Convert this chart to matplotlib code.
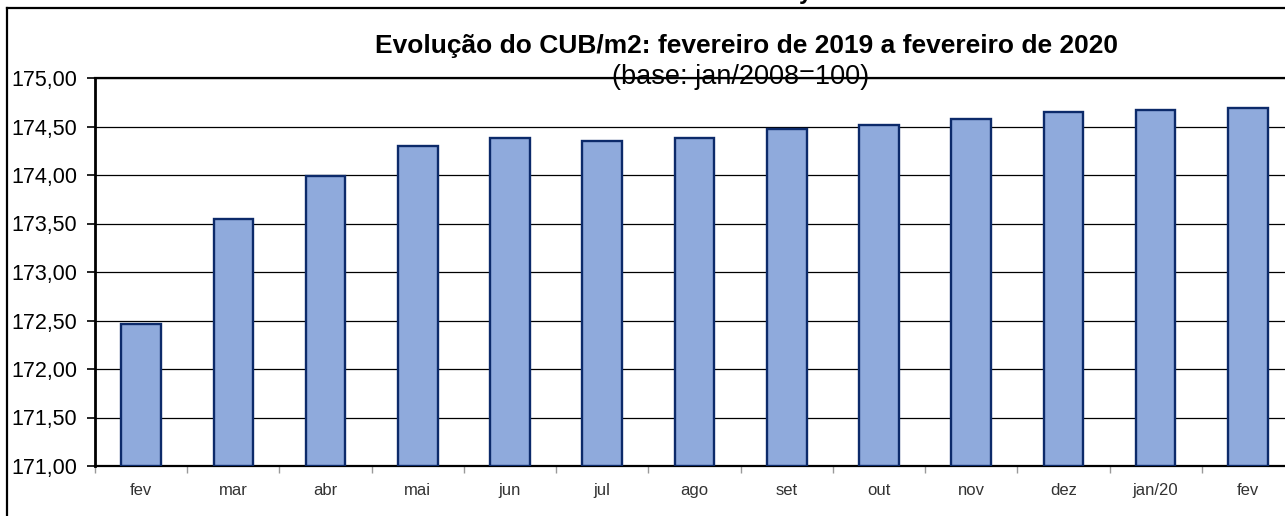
import numpy as np
import matplotlib
matplotlib.use("Agg")
import matplotlib.pyplot as plt
from matplotlib.lines import Line2D
from matplotlib.ticker import FixedLocator, FuncFormatter

plt.rcParams['font.family'] = ['Liberation Sans', 'DejaVu Sans']

# dados
meses = ['fev', 'mar', 'abr', 'mai', 'jun', 'jul', 'ago', 'set', 'out', 'nov', 'dez', 'jan/20', 'fev']
cub = [172.46, 173.55, 173.99, 174.30, 174.38, 174.35, 174.38, 174.47, 174.52, 174.58, 174.65, 174.67, 174.69]
y_ticks = [171.0, 171.5, 172.0, 172.5, 173.0, 173.5, 174.0, 174.5, 175.0]

fig = plt.figure(figsize=(12.85, 5.16), dpi=100)
W, H = 1285.0, 516.0

# moldura externa (cortada)
fig.add_artist(Line2D([7/W, 7/W], [0, 1 - 8/H], color='black', lw=1.6, transform=fig.transFigure))
fig.add_artist(Line2D([7/W, 1], [1 - 8/H, 1 - 8/H], color='black', lw=1.6, transform=fig.transFigure))
# resto de texto acima (cortado)
fig.text(805/W, 1.0 + 1/H, 'y', fontsize=17, fontweight='bold', ha='center', va='baseline')

ax = fig.add_axes([95/W, 50/H, 1199/W, 388/H])
x = np.arange(len(meses))
ax.bar(x, [v - 171.0 for v in cub], bottom=171.0, width=0.43,
       color='#8FAADC', edgecolor='#0C2A6A', linewidth=1.7, zorder=3)

ax.set_xlim(-0.5, len(meses) - 0.5)
ax.set_ylim(171.0, 175.0)
ax.yaxis.set_major_locator(FixedLocator(y_ticks))
ax.yaxis.set_major_formatter(FuncFormatter(lambda v, p: ('%.2f' % v).replace('.', ',')))
ax.grid(axis='y', color='black', lw=0.9, zorder=1)
ax.set_axisbelow(True)

ax.set_xticks(x)
ax.set_xticklabels(meses, fontsize=12, color='#333333')
ax.set_xticks(np.arange(-0.5, len(meses), 1), minor=True)
ax.tick_params(axis='x', which='major', length=0, pad=12)
ax.tick_params(axis='x', which='minor', length=5, color='#999999', width=1)
ax.tick_params(axis='y', length=6, width=1.2, labelsize=15.5, pad=7, colors='black')

ax.spines['left'].set_linewidth(2)
ax.spines['bottom'].set_linewidth(1.6)
ax.spines['top'].set_linewidth(1.6)
ax.spines['right'].set_visible(False)

fig.text(746/W, 1 - 53/H, 'Evolução do CUB/m2: fevereiro de 2019 a fevereiro de 2020',
         fontsize=19, fontweight='bold', ha='center', va='baseline')
fig.text(741/W, 1 - 84/H, '(base: jan/2008=100)', fontsize=19.5, ha='center', va='baseline')

fig.savefig('out.png', dpi=100)
